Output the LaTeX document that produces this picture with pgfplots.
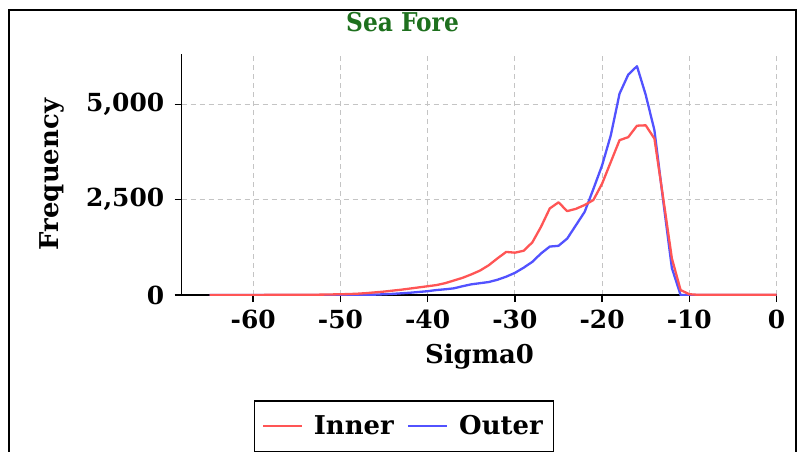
\documentclass[border=0pt]{standalone}
\usepackage{pgfplots}
\pgfplotsset{compat=1.18}
\usepackage{pgfplotstable}
\usepackage{fontspec}
\setmainfont{DejaVu Serif}
\newfontfamily\titlefont{DejaVu Serif Condensed}
\definecolor{cred}{HTML}{FF5555}
\definecolor{cblue}{HTML}{5252FF}
\definecolor{cgreen}{HTML}{1E701E}
\definecolor{cgrid}{HTML}{C4C4C4}

\pgfplotstableread{
x inner outer
-65 0 0
-60 2 0
-55 5 0
-52 10 0
-50 20 0
-49 25 2
-48 35 5
-47 50 8
-46 70 10
-45 90 20
-44 115 30
-43 140 45
-42 170 60
-41 200 80
-40 230 100
-39 260 130
-38 310 150
-37 380 175
-36 450 230
-35 540 280
-34 640 310
-33 780 340
-32 960 400
-31 1130 480
-30 1110 580
-29 1160 715
-28 1380 870
-27 1790 1090
-26 2270 1270
-25 2430 1290
-24 2200 1480
-23 2260 1830
-22 2360 2180
-21 2490 2780
-20 2920 3400
-19 3490 4190
-18 4060 5280
-17 4140 5780
-16 4440 6000
-15 4450 5250
-14 4100 4320
-13 2550 2480
-12 960 707
-11 130 0
-10 20 0
-9 5 0
-5 5 0
0 5 0
}\datatable

\begin{document}
\begin{tikzpicture}
\begin{axis}[
  at={(181.7bp,-295bp)}, anchor=south west,
  scale only axis, width=595.7bp, height=241bp,
  xmin=-68.2, xmax=0.1, ymin=0, ymax=6320,
  axis x line=bottom, axis y line=left,
  axis line style={line width=1.5bp,-},
  xtick={-60,-50,...,0}, ytick={0,2500,5000},
  grid=major, grid style={cgrid, dash pattern=on 5bp off 4bp, line width=0.9bp},
  tick align=outside, major tick length=7bp, tick style={black, line width=1.5bp},
  scaled y ticks=false,
  /pgf/number format/assume math mode=true,
  /pgf/number format/1000 sep={,},
  ticklabel style={font=\bfseries\fontsize{25}{28}\selectfont},
  xticklabel style={anchor=base, yshift=-26bp},
  yticklabel style={anchor=east, xshift=-7bp},
  xlabel={Sigma0}, ylabel={Frequency},
  label style={font=\bfseries\fontsize{26}{28}\selectfont},
  ylabel style={at={(axis description cs:-0.2177,0.5)}, anchor=center},
  xlabel style={at={(axis description cs:0.5,0)}, yshift=-62bp, anchor=center},
  legend columns=2, reverse legend,
  legend style={at={(axis description cs:0.3732,-0.4357)}, anchor=north,
    draw=black, line width=1.5bp, inner xsep=8bp, inner ysep=12bp,
    font=\bfseries\fontsize{26}{28}\selectfont,
    nodes={inner sep=3bp},
    /tikz/every odd column/.append style={column sep=8bp},
    /tikz/every even column/.append style={column sep=11bp}},
  legend image code/.code={\draw[#1, line width=1.5bp] (0bp,0bp) -- (39bp,0bp);},
]
\addplot[draw=cblue, line width=2.3bp, line join=round] table[x=x, y=outer] {\datatable};
\addlegendentry{Outer}
\addplot[draw=cred, line width=2.3bp, line join=round] table[x=x, y=inner] {\datatable};
\addlegendentry{Inner}
\end{axis}
\node[text=cgreen, font=\titlefont\bfseries\fontsize{26}{28}\selectfont] at (402.5bp,-22bp) {Sea Fore};
\draw[line width=2.5bp] (9bp,-10bp) rectangle (796bp,-490bp);
\pgfresetboundingbox
\path[use as bounding box] (0bp,0bp) rectangle (803bp,-452bp);
\end{tikzpicture}
\end{document}
